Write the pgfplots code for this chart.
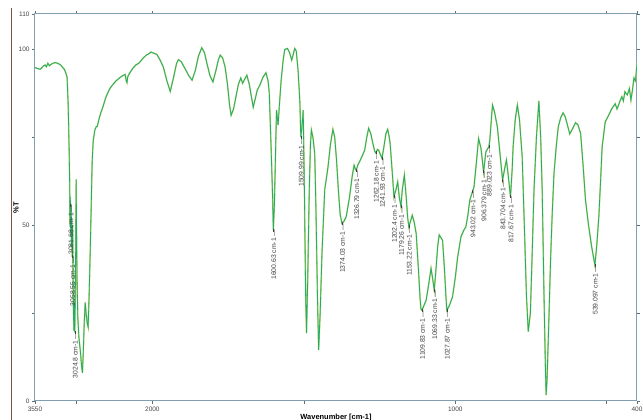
\documentclass[border=0pt]{standalone}
\usepackage{fontspec}
\setmainfont{Liberation Sans}
\usepackage{pgfplots}
\usepackage{pgfplotstable}
\pgfplotsset{compat=1.18}
\definecolor{specgreen}{RGB}{36,172,112}
\definecolor{spechalo}{RGB}{190,215,110}
\definecolor{framecol}{RGB}{128,160,178}
\definecolor{winbrown}{RGB}{128,84,66}
\definecolor{ticktext}{RGB}{70,70,70}

\pgfplotstableread{
w T
3550 94.8
3520 94.5
3480 94.3
3440 95.2
3417 95.5
3400 95.0
3380 96.0
3360 95.3
3330 95.8
3285 96.2
3250 96.0
3210 95.5
3192 95.0
3160 94.2
3140 93.0
3126 92.0
3113 85
3105 78
3098 70
3092 62
3088 50
3084 58
3081.68 55.5
3078 47
3074 56
3070 44
3065 52
3058.55 41
3054 50
3048 36
3042 25
3036 20
3030 28
3024.8 19.5
3018 30
3012 45
3006 63
3002 50
2995 35
2985 24
2970 18
2950 14
2935 10
2923 8
2912 14
2900 22
2887 28
2875 25
2860 22
2848 21
2838 28
2828 36
2818 45
2805 58
2795 68
2781 74
2760 77
2740 78
2728 78
2700 80.5
2680 82
2662 83
2640 84.5
2620 86
2600 87
2580 88
2556 89
2520 90
2480 91
2450 91.5
2424 92
2390 92.5
2360 92.8
2345 91.0
2335 90.5
2325 92.2
2300 93.2
2260 94.5
2220 95.5
2180 96
2159 96.5
2120 97.5
2080 98.3
2040 98.8
2020 99.2
2000 99
1985 98.5
1975 97
1964 95
1952 91
1941 88
1930 92
1920 96
1914 97
1905 96.5
1891 94.3
1880 92.5
1869 91.2
1858 94
1848 98
1837 100.4
1828 99
1820 96
1810 92.5
1800 90.7
1790 94
1782 97
1776 98.3
1768 97.5
1760 95
1752 90
1745 84
1740 81.2
1732 83
1724 86.5
1716 90
1708 91.8
1702 90.3
1695 91.5
1688 92.6
1680 90
1672 86
1667 83.5
1660 86
1654 88.3
1645 89.8
1635 92
1625 93.3
1618 91
1614 87.5
1608 72
1603 58
1600.63 48.6
1597 56
1593 72
1590 82.7
1585 78.4
1581 83.6
1575 91
1568 97
1563 99.9
1554 100.2
1547 99
1540 96.9
1535 98.5
1530 100.2
1525 99.5
1519 94
1513 85
1509.99 75
1505 79
1502 82.7
1498 60
1494 30
1491 19.3
1487 35
1482 60
1478 73
1475 77
1470 75
1464 70.4
1460 55
1455 30
1451 14.5
1446 25
1440 42
1431 60
1420 66.6
1412 73
1404 77.2
1398 75
1392 68.5
1386 60
1380 53
1374.03 50.5
1368 51
1360 52.4
1349 58
1340 64
1334 67
1330 66
1326.79 65.6
1322 67
1316 68
1308 69.5
1299 71.3
1292 75
1286 77.5
1279 76
1272 73.2
1266 71
1262.18 70.5
1257 71.5
1253 71.3
1247 70
1241.93 69
1236 72
1229 76
1223 77.2
1218 75
1215 73.2
1208 65
1202.4 58
1196 60
1190 62.3
1185 58
1179.26 55.3
1175 60
1168 64.2
1162 58
1157 52
1153.22 49.5
1148 51
1142 52.8
1136 51
1129 47.6
1122 38
1116 29
1113 26
1109.83 25.8
1104 27
1096 28.7
1088 33
1080 37.7
1075 35
1069.33 31.5
1064 37
1058 44
1053 47.2
1042 45.7
1036 38
1031 30
1027.87 25.8
1020 27
1009 29.6
1000 35
992 41
981 46.7
972 48.5
965 49.5
958 53
952 57.1
943.02 59.5
938 60.9
930 68
923 74.6
915 71.8
906.379 65.1
899 70.8
889.023 72.3
886 74.1
880 81
877 84.1
870 82
861 77.9
852 70
843.704 62.8
837 66
831 68.5
825 64
817.67 58
812 66
809 72.3
802 80
795 84.1
788 80
779 69.4
772 50
765 30
759 19.7
752 25
746 42
740 60
732 75
724 85.3
718 75
713 60
707 30
702 8
700 1.7
697 6
692 20
685 41
680 53
674 64.7
667 72
660 77.9
652 80.5
644 81.9
637 80.8
631 78.9
622 75.9
612 77.5
603 79.1
595 78.5
586 76
578 67
570 57.1
560 50
550 44
539.097 38.6
533 44
526 52.4
520 63
515 72.3
505 79.3
495 81
483 83.1
472 84.5
466 83
461 84.1
455 85.5
450 86.5
445 85.3
440 87.9
432 87
425 88.8
420 85.5
415 88.4
410 91.8
405 91
402 94
400 96
}\spec

\pgfplotstableread{
w T lab
3024.8 19.5 3024.8
3058.55 41 3058.55
3081.68 55.7 3081.68
1600.63 48.6 1600.63
1509.99 75 1509.99
1374.03 50.5 1374.03
1326.79 65.6 1326.79
1262.18 70.5 1262.18
1241.93 69 1241.93
1202.4 58 1202.4
1179.26 55.3 1179.26
1153.22 49.5 1153.22
1109.83 25.8 1109.83
1069.33 31.5 1069.33
1027.87 25.8 1027.87
943.02 59.5 943.02
906.379 65.1 906.379
889.023 72.3 889.023
843.704 62.8 843.704
817.67 58 817.67
539.097 38.6 539.097
}\peaks

\begin{document}
\begin{tikzpicture}
\useasboundingbox (-35bp,-19bp) rectangle (608bp,401bp);
\draw[winbrown, line width=0.8bp] (-24bp,-19bp) -- (-24bp,393bp);
\begin{axis}[
  at={(0,0)}, anchor=south west,
  scale only axis, width=602bp, height=387bp,
  x dir=reverse,
  x coord trafo/.code={\pgfmathparse{#1>2000 ? 2000+(#1-2000)/4 : #1}},
  x coord inv trafo/.code={\pgfmathparse{#1>2000 ? 2000+(#1-2000)*4 : #1}},
  xmin=400, xmax=3550, ymin=0, ymax=110,
  xtick={400,500,1000,1500,2000,3000,3550},
  xticklabels={400,,1000,,2000,,3550},
  ytick={0,25,50,75,100,110},
  yticklabels={0,,50,,100,110},
  tick align=outside, major tick length=3bp,
  tick style={framecol!70!black, line width=0.5bp},
  axis line style={framecol, line width=1bp},
  /pgf/number format/assume math mode=true,
  ticklabel style={font=\fontsize{6.5}{7}\selectfont, text=ticktext},
  xticklabel style={yshift=1bp},
  yticklabel style={xshift=1bp},
  xlabel={Wavenumber [cm-1]},
  ylabel={\%T},
  xlabel style={at={(axis description cs:0.5,0)}, anchor=north, yshift=-12.5bp, inner sep=0pt, font=\bfseries\fontsize{7.5}{9}\selectfont},
  ylabel style={at={(axis description cs:-0.0316,0.5)}, anchor=center, inner sep=0pt, font=\bfseries\fontsize{7.5}{9}\selectfont},
]
\addplot[spechalo, line width=1.5bp, no marks] table[x=w, y=T] {\spec};
\addplot[specgreen, line width=0.8bp, no marks] table[x=w, y=T] {\spec};
\addplot[only marks, mark=|, mark size=1.5bp, black!75,
  point meta=explicit symbolic,
  nodes near coords={\pgfplotspointmeta{} cm-1\,\textemdash},
  every node near coord/.style={rotate=90, anchor=east, inner sep=0pt, yshift=-0.5bp,
     font=\fontsize{6.8}{7}\selectfont, text=black!75}]
  table[x=w, y=T, meta=lab] {\peaks};
\end{axis}
\end{tikzpicture}
\end{document}
